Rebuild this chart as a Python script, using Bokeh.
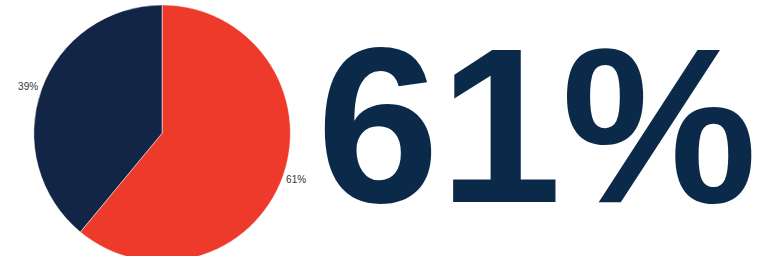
import numpy as np
from bokeh.plotting import figure
from bokeh.models import ColumnDataSource, Range1d
from bokeh.core.properties import value
from bokeh.embed import file_html
from bokeh.resources import INLINE

# data
categories = ["Yes", "No"]
values = [61, 39]
labels = ["61%", "39%"]
colors = ["#EE3A2B", "#122546"]
headline = "61%"

W, H = 758, 256
p = figure(width=W, height=H, output_backend="svg", toolbar_location=None,
           x_range=Range1d(0, 774), y_range=Range1d(0, 272), min_border=0)
p.axis.visible = False
p.grid.visible = False
p.outline_line_color = None
p.background_fill_color = "white"
p.border_fill_color = "white"

cx, cy, r = 165, 131, 131
vals = np.array(values, dtype=float)
frac = vals / vals.sum()
cum = np.concatenate([[0], np.cumsum(frac)])
start = np.pi / 2 - cum[:-1] * 2 * np.pi
end = np.pi / 2 - cum[1:] * 2 * np.pi
mid = (start + end) / 2
lr = r * 1.11
src = ColumnDataSource(dict(cat=categories, start=start, end=end, color=colors,
                            lx=cx + lr * np.cos(mid), ly=cy + lr * np.sin(mid),
                            label=labels))
p.wedge(x=cx, y=cy, radius=r, start_angle="start", end_angle="end",
        direction="clock", fill_color="color", line_color="white", line_width=0.5,
        source=src)
p.text(x="lx", y="ly", text="label", source=src, text_align="center",
       text_baseline="middle", text_font_size="10px", text_color="#333333",
       text_font=value("Liberation Sans"))

p.text(x=[323], y=[269], text=[headline], text_font=value("Liberation Sans"),
       text_font_style="bold", text_font_size="220px", text_color="#0B2A4A",
       text_baseline="top", text_align="left")

open("out.html", "w").write(file_html(p, INLINE))
